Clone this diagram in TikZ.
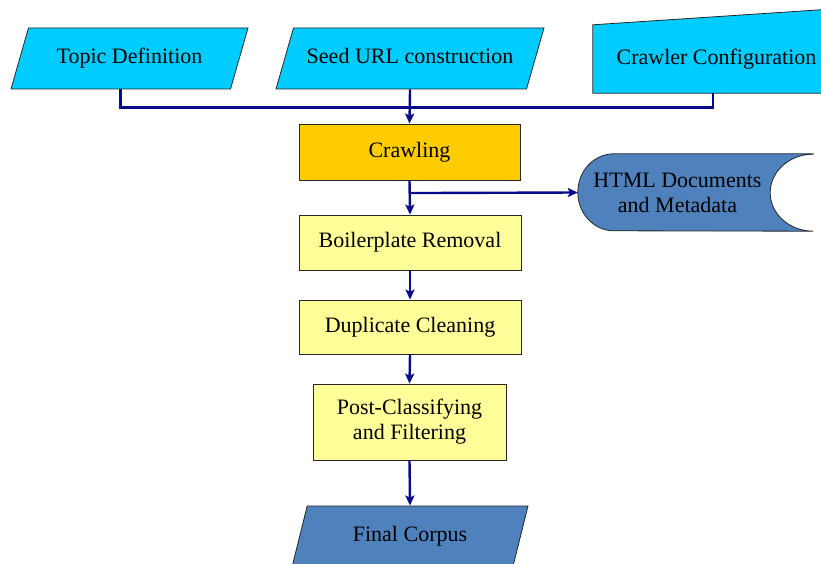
\documentclass[tikz,border=0pt]{standalone}
\usepackage{fontspec}
\setmainfont{Liberation Serif}
\usetikzlibrary{shapes.geometric, arrows.meta, backgrounds, calc}

\definecolor{inputcyan}{HTML}{00CCFF}
\definecolor{crawlorange}{HTML}{FFCC00}
\definecolor{steplight}{HTML}{FFFF99}
\definecolor{storeblue}{HTML}{4F81BD}
\definecolor{edgegray}{HTML}{262626}
\definecolor{flowblue}{HTML}{0A0A8C}

\begin{document}
\begin{tikzpicture}[x=1pt, y=-1pt,
    txt/.style={font=\fontsize{22}{25}\selectfont, align=center, text=black},
    inbox/.style={txt, trapezium, trapezium stretches body, trapezium left angle=74, trapezium right angle=106,
                  draw=edgegray, line width=0.8pt, fill=inputcyan, text height=15pt, text depth=4.5pt,
                  inner xsep=0pt, inner ysep=20.75pt},
    procbox/.style={txt, rectangle, draw=edgegray, line width=0.8pt, fill=steplight, minimum width=222pt, minimum height=55pt},
    shell/.style={rectangle, minimum height=68pt, inner sep=0pt},
    link/.style={draw=flowblue, line width=2.4pt},
    flow/.style={link, -{Stealth[length=10pt, width=9pt, inset=2pt]}}
  ]
  \clip (0,0) rectangle (821,564);
  \useasboundingbox (0,0) rectangle (821,564);

  % inputs
  \node[inbox, minimum width=237pt] (topic) at (129.5, 58.5) {Topic Definition};
  \node[inbox, minimum width=268pt] (seed) at (410, 58.5) {Seed URL construction};
  \node[shell, txt, minimum width=247pt] (config) at (716.5, 59) {Crawler Configuration};

  % processing steps
  \node[procbox, fill=crawlorange, minimum width=221pt, minimum height=56pt] (crawl) at (409.5, 152) {Crawling};
  \node[procbox] (boiler) at (410, 242.5) {Boilerplate Removal};
  \node[procbox, minimum height=54pt] (dedup) at (410, 327) {Duplicate Cleaning};
  \node[procbox, minimum width=193pt, minimum height=76pt] (postfilter) at (409.5, 422) {Post-Classifying\\and Filtering};
  \node[inbox, fill=storeblue, trapezium left angle=76, trapezium right angle=104, minimum width=236pt] (corpus) at (410, 536.5) {Final Corpus};

  % stored data
  \node[rectangle, minimum width=235pt, minimum height=77pt, inner sep=0pt] (html) at (695.5, 192.5) {};
  \node[txt] (htmltext) at ([xshift=-18pt]html.center) {HTML Documents\\and Metadata};

  \begin{scope}[on background layer]
    \draw[edgegray, line width=0.8pt, fill=inputcyan] (config.south west) -- (config.north west)
      -- ([yshift=16.3pt]config.north east) -- (config.south east) -- cycle;
    \draw[edgegray, line width=0.8pt, fill=storeblue] (html.north east) -- ([xshift=36pt]html.north west)
      arc[start angle=90, end angle=270, x radius=36pt, y radius=38.5pt] -- (html.south east)
      arc[start angle=270, end angle=90, x radius=43pt, y radius=38.5pt] -- cycle;
  \end{scope}

  % connectors
  \draw[link] ([xshift=-9pt]topic.south) -- ++(0,18) -| ([xshift=-3.5pt]config.south);
  \draw[flow] (seed.south) -- (crawl.north);
  \draw[flow] (crawl.south) -- (boiler.north);
  \coordinate (split) at ($(crawl.south)!0.37!(boiler.north)$);
  \draw[flow] (split) -- (html.west);
  \draw[flow] (boiler.south) -- (dedup.north);
  \draw[flow] (dedup.south) -- (postfilter.north);
  \draw[flow] (postfilter.south) -- (corpus.north);
\end{tikzpicture}
\end{document}
